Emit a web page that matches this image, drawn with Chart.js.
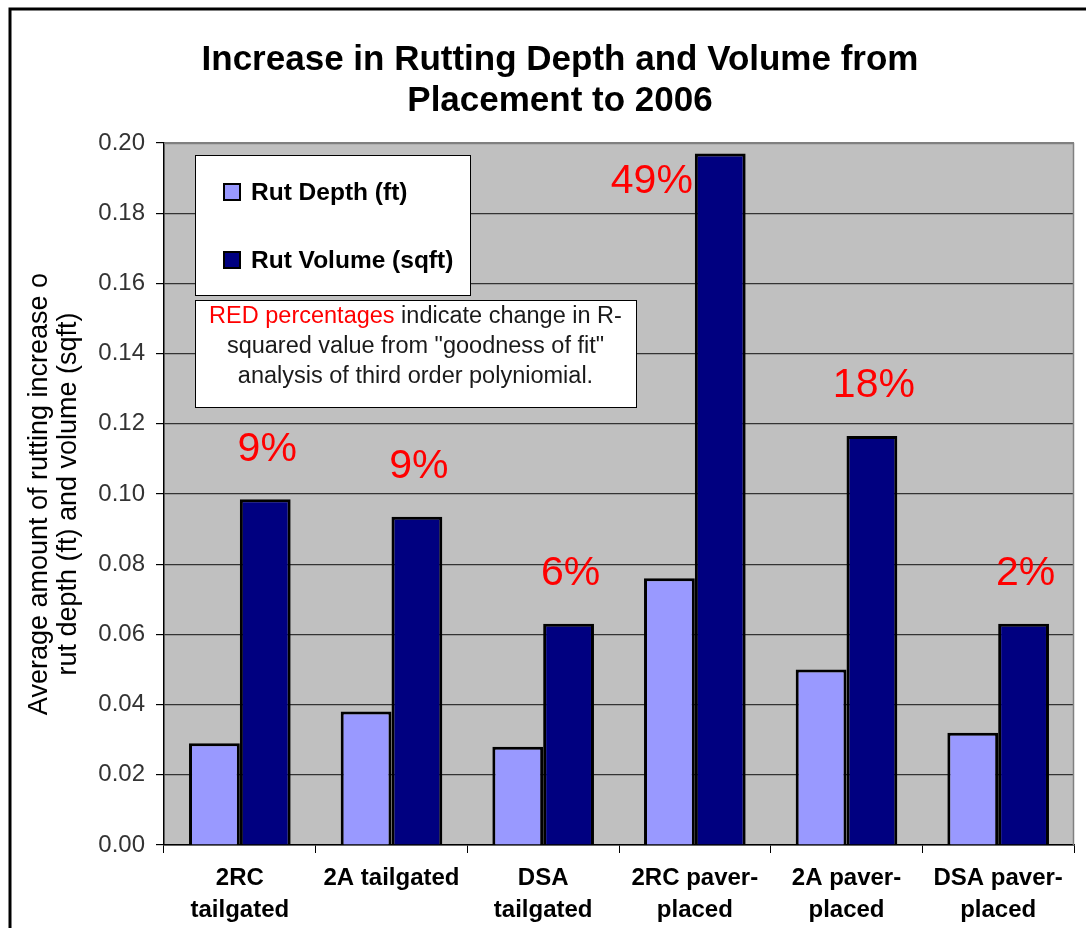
<!DOCTYPE html>
<html>
<head>
<meta charset="utf-8">
<script src="https://cdn.jsdelivr.net/npm/chart.js@4"></script>
<style>
  html, body { margin: 0; padding: 0; background: #fff; }
  #wrap { width: 1086px; height: 928px; }
</style>
</head>
<body>
<div id="wrap"><canvas id="c" width="1086" height="928"></canvas></div>
<script>
// Pavement sections
const categories = [
  ['2RC', 'tailgated'],
  '2A tailgated',
  ['DSA', 'tailgated'],
  ['2RC paver-', 'placed'],
  ['2A paver-', 'placed'],
  ['DSA paver-', 'placed']
];

// Average rutting increase, placement to 2006
const rutDepth = [0.029, 0.038, 0.028, 0.076, 0.050, 0.032];
const rutVolume = [0.0985, 0.0935, 0.063, 0.197, 0.1165, 0.063];

// Change in R-squared (third order polynomial fit)
const rSquaredChange = ['9%', '9%', '6%', '49%', '18%', '2%'];

const yTicks = { min: 0, max: 0.2, step: 0.02 };

const titleLines = ['Increase in Rutting Depth and Volume from', 'Placement to 2006'];
const yTitleLines = ['Average amount of rutting increase o', 'rut depth (ft) and volume (sqft)'];
const noteLines = [
  [['RED percentages', '#ff0000'], [' indicate change in R-', '#1a1a1a']],
  [['squared value from "goodness of fit"', '#1a1a1a']],
  [['analysis of third order polyniomial.', '#1a1a1a']]
];

const FONT = '"Liberation Sans", Arial, sans-serif';

// White page, outer frame and grey plot background
const backdrop = {
  id: 'backdrop',
  beforeDraw(chart) {
    const { ctx, chartArea: a } = chart;
    ctx.save();
    ctx.fillStyle = '#ffffff';
    ctx.fillRect(0, 0, chart.width, chart.height);
    ctx.strokeStyle = '#000';
    ctx.lineWidth = 3;
    ctx.beginPath();
    ctx.moveTo(10, chart.height + 5);
    ctx.lineTo(10, 9);
    ctx.lineTo(chart.width + 5, 9);
    ctx.stroke();
    ctx.fillStyle = '#c0c0c0';
    ctx.fillRect(a.left, a.top, a.right - a.left, a.bottom - a.top);
    ctx.restore();
  }
};

// Title, legend box, note box and R-squared labels
const overlay = {
  id: 'overlay',
  afterDraw(chart) {
    const { ctx, chartArea: a } = chart;
    ctx.save();

    // plot border (top / right)
    ctx.strokeStyle = '#808080';
    ctx.lineWidth = 1.5;
    ctx.beginPath();
    ctx.moveTo(a.left, a.top + 0.5);
    ctx.lineTo(a.right - 0.5, a.top + 0.5);
    ctx.lineTo(a.right - 0.5, a.bottom);
    ctx.stroke();

    // title
    ctx.fillStyle = '#000';
    ctx.font = 'bold 35px ' + FONT;
    ctx.textAlign = 'center';
    ctx.textBaseline = 'middle';
    titleLines.forEach((t, i) => ctx.fillText(t, 560, 60 + i * 41));

    // legend box
    ctx.fillStyle = '#fff';
    ctx.fillRect(195, 155, 275, 140);
    ctx.strokeStyle = '#000';
    ctx.lineWidth = 1;
    ctx.strokeRect(195.5, 155.5, 275, 140);
    chart.data.datasets.forEach((ds, i) => {
      const cy = 192 + i * 68;
      ctx.fillStyle = ds.backgroundColor;
      ctx.fillRect(224, cy - 8, 16, 16);
      ctx.strokeStyle = '#000';
      ctx.lineWidth = 2;
      ctx.strokeRect(224, cy - 8, 16, 16);
      ctx.fillStyle = '#000';
      ctx.font = 'bold 24.5px ' + FONT;
      ctx.textAlign = 'left';
      ctx.textBaseline = 'middle';
      ctx.fillText(ds.label, 251, cy + 1);
    });

    // note box
    ctx.fillStyle = '#fff';
    ctx.fillRect(195, 300, 441, 107);
    ctx.strokeStyle = '#000';
    ctx.lineWidth = 1;
    ctx.strokeRect(195.5, 300.5, 441, 107);
    ctx.font = '23.5px ' + FONT;
    ctx.textBaseline = 'middle';
    ctx.textAlign = 'left';
    noteLines.forEach((parts, i) => {
      const w = parts.reduce((s, p) => s + ctx.measureText(p[0]).width, 0);
      let x = 415.5 - w / 2;
      const y = 317 + i * 30;
      parts.forEach(p => {
        ctx.fillStyle = p[1];
        ctx.fillText(p[0], x, y);
        x += ctx.measureText(p[0]).width;
      });
    });

    // R-squared change labels above the volume bars
    const meta = chart.getDatasetMeta(1);
    ctx.fillStyle = '#ff0000';
    ctx.font = '41px ' + FONT;
    ctx.textBaseline = 'middle';
    meta.data.forEach((bar, i) => {
      const label = rSquaredChange[i];
      const y = bar.y - 50;
      if (y < a.top + 30) {
        ctx.textAlign = 'right';
        ctx.fillText(label, bar.x - bar.width / 2 - 2, a.top + 39);
      } else {
        ctx.textAlign = 'center';
        ctx.fillText(label, bar.x + 2, y);
      }
    });
    ctx.restore();
  }
};

new Chart(document.getElementById('c'), {
  type: 'bar',
  data: {
    labels: categories,
    datasets: [
      {
        label: 'Rut Depth (ft)',
        data: rutDepth,
        backgroundColor: '#9999ff',
        borderColor: '#000',
        borderWidth: 3
      },
      {
        label: 'Rut Volume (sqft)',
        data: rutVolume,
        backgroundColor: '#000080',
        borderColor: '#000',
        borderWidth: 3
      }
    ]
  },
  options: {
    responsive: false,
    animation: false,
    events: [],
    layout: { padding: { top: 143, left: 0, right: 12, bottom: 0 } },
    datasets: { bar: { categoryPercentage: 0.67, barPercentage: 1.0 } },
    plugins: {
      legend: { display: false },
      title: { display: false },
      tooltip: { enabled: false }
    },
    scales: {
      x: {
        afterFit(scale) { scale.height = 83; },
        grid: {
          offset: true,
          drawOnChartArea: false,
          drawTicks: true,
          tickLength: 8,
          tickColor: '#000'
        },
        border: { display: true, color: '#000', width: 1.5 },
        ticks: {
          padding: 9,
          color: '#000',
          maxRotation: 0,
          autoSkip: false,
          font: { family: FONT, size: 24, weight: 'bold', lineHeight: '32px' }
        }
      },
      y: {
        min: yTicks.min,
        max: yTicks.max,
        afterFit(scale) { scale.width = 164; },
        grid: {
          color: ctx => (ctx.tick && Math.abs(ctx.tick.value - yTicks.max) < 1e-9) ? '#808080' : '#333333',
          lineWidth: 1.2,
          drawTicks: true,
          tickLength: 8,
          tickColor: '#000'
        },
        border: { display: true, color: '#000', width: 1.5 },
        ticks: {
          stepSize: yTicks.step,
          padding: 11,
          color: '#333',
          font: { family: FONT, size: 24 },
          callback: v => Number(v).toFixed(2)
        },
        title: {
          display: true,
          text: yTitleLines,
          color: '#000',
          padding: { top: 25, bottom: 0 },
          font: { family: FONT, size: 27, lineHeight: '29px' }
        }
      }
    }
  },
  plugins: [backdrop, overlay]
});
</script>
</body>
</html>
